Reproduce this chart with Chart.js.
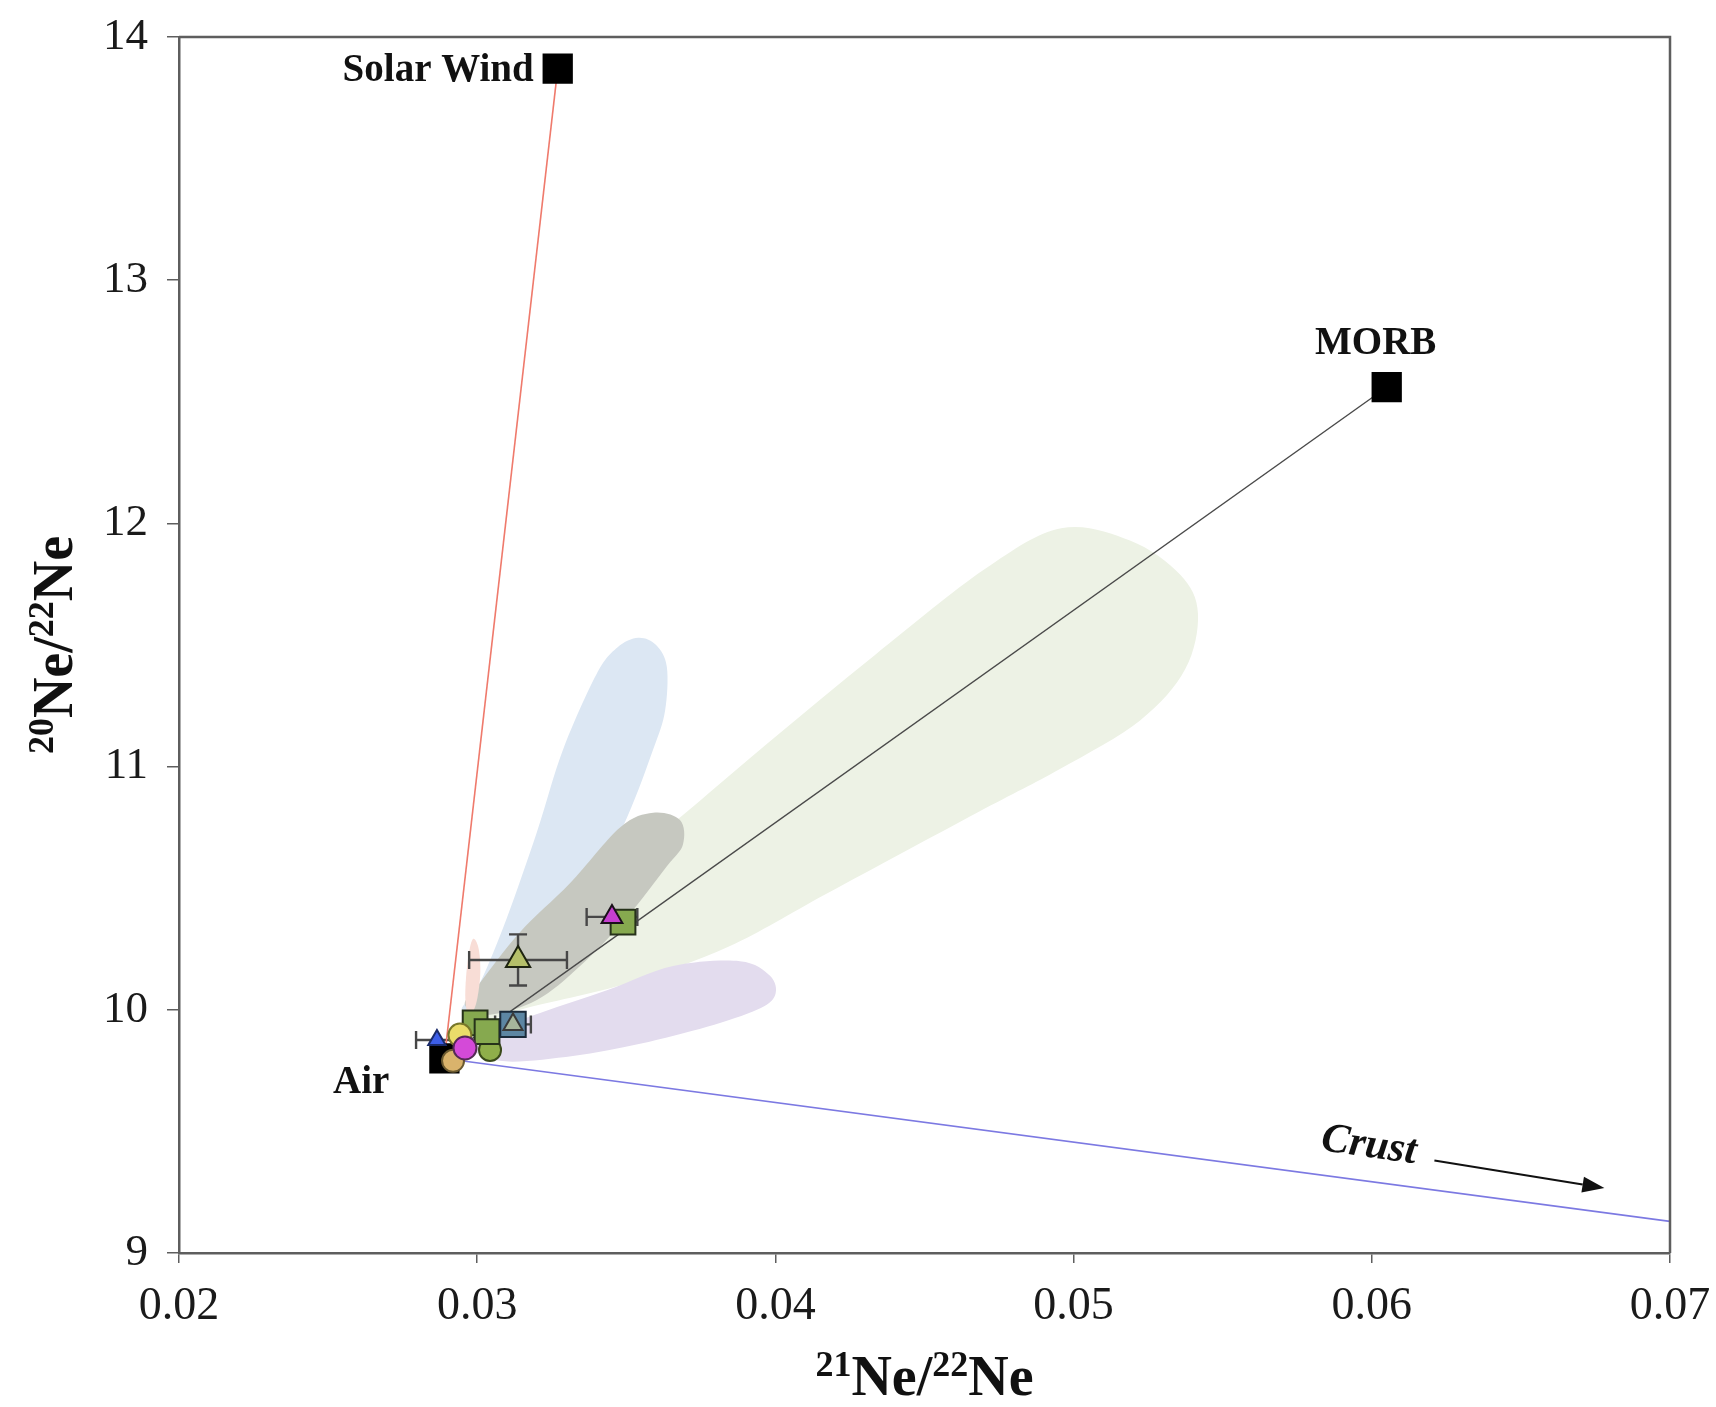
<!DOCTYPE html>
<html>
<head>
<meta charset="utf-8">
<title>Neon three-isotope plot</title>
<script src="https://cdn.jsdelivr.net/npm/chart.js@4.4.1/dist/chart.umd.min.js"></script>
<style>
  html, body { margin: 0; padding: 0; background: #fff; }
  #neon { display: block; }
</style>
</head>
<body>
<canvas id="neon" width="1716" height="1407" style="width:1716px;height:1407px"></canvas>
<script>
// Axis ticks
const xTicks = [0.02, 0.03, 0.04, 0.05, 0.06, 0.07];
const yTicks = [9, 10, 11, 12, 13, 14];

// End-member compositions (21Ne/22Ne, 20Ne/22Ne)
const endNames = ['Solar Wind', 'MORB', 'Air'];
const endX = [0.0327, 0.0605, 0.0289];
const endY = [13.87, 12.56, 9.80];

// Crustal (nucleogenic) trend and its arrow
const crustX = [0.0289, 0.0700];
const crustY = [9.80, 9.13];
const crustArrowX = [0.0621, 0.0678];
const crustArrowY = [9.380, 9.267];
const crustLabelAt = [0.0599, 9.44];

// Published data fields, outlined in data units
const greenFieldX = [0.02980, 0.03200, 0.03600, 0.03968, 0.04335, 0.04700, 0.04958, 0.05189, 0.05357,
                     0.05417, 0.05374, 0.05223, 0.04954, 0.04676, 0.04176, 0.03844, 0.03509, 0.03144, 0.02960];
const greenFieldY = [10.02, 10.33, 10.71, 11.09, 11.46, 11.81, 11.98, 11.93, 11.79,
                     11.63, 11.40, 11.19, 10.99, 10.81, 10.48, 10.26, 10.11, 10.00, 9.92];
const blueFieldX = [0.02949, 0.03009, 0.03100, 0.03200, 0.03288, 0.03400, 0.03470, 0.03540, 0.03600, 0.03636,
                    0.03630, 0.03590, 0.03502, 0.03378, 0.03211, 0.03043];
const blueFieldY = [10.00, 10.11, 10.38, 10.73, 11.07, 11.38, 11.49, 11.53, 11.50, 11.41,
                    11.23, 11.07, 10.79, 10.49, 10.20, 10.02];
const grayFieldX = [0.02959, 0.03009, 0.03144, 0.03311, 0.03479, 0.03590, 0.03680, 0.03690, 0.03636, 0.03502,
                    0.03345, 0.03200, 0.03043];
const grayFieldY = [10.02, 10.11, 10.32, 10.52, 10.75, 10.81, 10.78, 10.68, 10.59, 10.38,
                    10.18, 10.04, 9.98];
const purpleFieldX = [0.02976, 0.03211, 0.03435, 0.03657, 0.03881, 0.03982, 0.03999, 0.03938, 0.03771, 0.03546,
                      0.03321, 0.03076];
const purpleFieldY = [9.876, 9.987, 10.08, 10.18, 10.20, 10.14, 10.06, 10.00, 9.93, 9.86,
                      9.81, 9.79];
const pinkFieldX = [0.02985, 0.03005, 0.03010, 0.02995, 0.02970, 0.02960, 0.02968];
const pinkFieldY = [10.29, 10.25, 10.14, 10.02, 9.98, 10.06, 10.20];

// Samples
const blueTriX = [0.02865];
const blueTriY = [9.876];
const blueTriErrX = [0.0007];
const oliveTriX = [0.03137];
const oliveTriY = [10.205];
const oliveTriErrX = [0.00164];
const oliveTriErrY = [0.105];
const magentaTriX = [0.03452];
const magentaTriY = [10.382];
const magentaTriErrX = [0.00085];
const greenSqX = [0.02993, 0.03033, 0.03489];
const greenSqY = [9.946, 9.91, 10.36];
const steelSqX = [0.0312];
const steelSqY = [9.94];
const steelSqErrX = [0.0006];
const yellowCircX = [0.02942];
const yellowCircY = [9.896];
const magentaCircX = [0.02959];
const magentaCircY = [9.843];
const tanCircX = [0.02919];
const tanCircY = [9.79];
const oliveCircX = [0.03043];
const oliveCircY = [9.835];

const serif = "'Liberation Serif', 'Times New Roman', serif";
const axisGray = '#5e5e5e';

const pts = (xs, ys) => xs.map((v, i) => ({ x: v, y: ys[i] }));

const fields = [
  { xs: greenFieldX, ys: greenFieldY, color: '#edf2e5' },
  { xs: blueFieldX, ys: blueFieldY, color: '#dce7f3' },
  { xs: grayFieldX, ys: grayFieldY, color: '#c6c8c0' },
  { xs: purpleFieldX, ys: purpleFieldY, color: '#e3dcee' },
  { xs: pinkFieldX, ys: pinkFieldY, color: '#f8ddd6' },
];

// Closed Catmull-Rom outline through the field vertices
function traceClosed(ctx, p) {
  const n = p.length;
  ctx.moveTo(p[0][0], p[0][1]);
  for (let i = 0; i < n; i++) {
    const p0 = p[(i - 1 + n) % n], p1 = p[i], p2 = p[(i + 1) % n], p3 = p[(i + 2) % n];
    ctx.bezierCurveTo(
      p1[0] + (p2[0] - p0[0]) / 6, p1[1] + (p2[1] - p0[1]) / 6,
      p2[0] - (p3[0] - p1[0]) / 6, p2[1] - (p3[1] - p1[1]) / 6,
      p2[0], p2[1]);
  }
  ctx.closePath();
}

const fieldsPlugin = {
  id: 'fields',
  beforeDatasetsDraw(chart) {
    const { ctx, scales: { x, y } } = chart;
    ctx.save();
    fields.forEach((f) => {
      const p = f.xs.map((v, i) => [x.getPixelForValue(v), y.getPixelForValue(f.ys[i])]);
      ctx.beginPath();
      traceClosed(ctx, p);
      ctx.fillStyle = f.color;
      ctx.fill();
    });
    ctx.restore();
  },
};

const errorBarPlugin = {
  id: 'errorBars',
  beforeDatasetsDraw(chart) {
    const { ctx, scales: { x, y } } = chart;
    const cap = 9;
    const seg = (x1, y1, x2, y2) => { ctx.moveTo(x1, y1); ctx.lineTo(x2, y2); };
    ctx.save();
    ctx.strokeStyle = '#474747';
    ctx.lineWidth = 2.4;
    ctx.beginPath();
    chart.data.datasets.forEach((ds) => {
      if (!ds.errX && !ds.errY) return;
      ds.data.forEach((p, i) => {
        const px = x.getPixelForValue(p.x);
        const py = y.getPixelForValue(p.y);
        if (ds.errX && ds.errX[i]) {
          const l = x.getPixelForValue(p.x - ds.errX[i]);
          const r = x.getPixelForValue(p.x + ds.errX[i]);
          seg(l, py, r, py); seg(l, py - cap, l, py + cap); seg(r, py - cap, r, py + cap);
        }
        if (ds.errY && ds.errY[i]) {
          const t = y.getPixelForValue(p.y + ds.errY[i]);
          const b = y.getPixelForValue(p.y - ds.errY[i]);
          seg(px, t, px, b); seg(px - cap, t, px + cap, t); seg(px - cap, b, px + cap, b);
        }
      });
    });
    ctx.stroke();
    ctx.restore();
  },
};

// Draws a ratio label like 21Ne/22Ne with raised mass numbers
function drawRatio(ctx, parts, cx, baseY) {
  const big = `bold 56px ${serif}`;
  const small = `bold 36px ${serif}`;
  let total = 0;
  parts.forEach(([t, sup]) => { ctx.font = sup ? small : big; total += ctx.measureText(t).width; });
  let cur = cx - total / 2;
  ctx.textAlign = 'left';
  ctx.textBaseline = 'alphabetic';
  parts.forEach(([t, sup]) => {
    ctx.font = sup ? small : big;
    ctx.fillText(t, cur, sup ? baseY - 19 : baseY);
    cur += ctx.measureText(t).width;
  });
}

const labelsPlugin = {
  id: 'labels',
  afterDatasetsDraw(chart) {
    const { ctx, chartArea: a, scales: { x, y } } = chart;
    ctx.save();

    // top and right frame
    ctx.strokeStyle = axisGray;
    ctx.lineWidth = 2.5;
    ctx.beginPath();
    ctx.moveTo(a.left, a.top);
    ctx.lineTo(a.right, a.top);
    ctx.lineTo(a.right, a.bottom);
    ctx.stroke();

    // end-member names
    const place = { 'Solar Wind': [-24, 2, 'right'], 'MORB': [-11, -43, 'center'], 'Air': [-55, 24, 'right'] };
    ctx.fillStyle = '#111';
    ctx.font = `bold 39px ${serif}`;
    ctx.textBaseline = 'middle';
    endNames.forEach((name, i) => {
      const [dx, dy, align] = place[name];
      ctx.textAlign = align;
      ctx.fillText(name, x.getPixelForValue(endX[i]) + dx, y.getPixelForValue(endY[i]) + dy);
    });

    // crust label and arrow
    ctx.save();
    ctx.translate(x.getPixelForValue(crustLabelAt[0]), y.getPixelForValue(crustLabelAt[1]));
    ctx.rotate(8 * Math.PI / 180);
    ctx.font = `italic bold 42px ${serif}`;
    ctx.textAlign = 'center';
    ctx.fillText('Crust', 0, 0);
    ctx.restore();

    const ax0 = x.getPixelForValue(crustArrowX[0]), ay0 = y.getPixelForValue(crustArrowY[0]);
    const ax1 = x.getPixelForValue(crustArrowX[1]), ay1 = y.getPixelForValue(crustArrowY[1]);
    const ang = Math.atan2(ay1 - ay0, ax1 - ax0);
    const head = 22, half = 8;
    ctx.strokeStyle = '#111';
    ctx.lineWidth = 2;
    ctx.beginPath();
    ctx.moveTo(ax0, ay0);
    ctx.lineTo(ax1 - head * Math.cos(ang), ay1 - head * Math.sin(ang));
    ctx.stroke();
    ctx.beginPath();
    ctx.moveTo(ax1, ay1);
    ctx.lineTo(ax1 - head * Math.cos(ang) + half * Math.sin(ang), ay1 - head * Math.sin(ang) - half * Math.cos(ang));
    ctx.lineTo(ax1 - head * Math.cos(ang) - half * Math.sin(ang), ay1 - head * Math.sin(ang) + half * Math.cos(ang));
    ctx.closePath();
    ctx.fillStyle = '#111';
    ctx.fill();

    // axis titles
    ctx.fillStyle = '#111';
    drawRatio(ctx, [['21', true], ['Ne/', false], ['22', true], ['Ne', false]], (a.left + a.right) / 2, 1395);
    ctx.save();
    ctx.translate(72, (a.top + a.bottom) / 2);
    ctx.rotate(-Math.PI / 2);
    drawRatio(ctx, [['20', true], ['Ne/', false], ['22', true], ['Ne', false]], 0, 0);
    ctx.restore();

    ctx.restore();
  },
};

const marker = (label, xs, ys, style, radius, fill, border, order, extra = {}) => ({
  label,
  data: pts(xs, ys),
  pointStyle: style,
  pointRadius: radius,
  backgroundColor: fill,
  borderColor: border,
  borderWidth: 2,
  order,
  ...extra,
});

const mixLine = (label, xs, ys, color, width) => ({
  label,
  data: pts(xs, ys),
  showLine: true,
  borderColor: color,
  borderWidth: width,
  pointRadius: 0,
  order: 100,
});

const datasets = [
  mixLine('Air - Solar Wind', [endX[2], endX[0]], [endY[2], endY[0]], '#ef7a6c', 1.6),
  mixLine('Air - MORB', [endX[2], endX[1]], [endY[2], endY[1]], '#4a4a4a', 1.4),
  mixLine('Air - Crust', crustX, crustY, '#7c79e2', 1.6),
  marker('End members', endX, endY, 'rect', 20, '#000', '#000', 60),
  marker('Tan', tanCircX, tanCircY, 'circle', 11, '#d9b36c', '#6b5a30', 50),
  marker('Olive circle', oliveCircX, oliveCircY, 'circle', 11, '#8fae4a', '#3a4a1a', 48),
  marker('Green squares', greenSqX, greenSqY, 'rect', 17.5, '#86a94f', '#26321a', 45),
  marker('Steel', steelSqX, steelSqY, 'rect', 18, '#5d86a3', '#1b2a3a', 40, { errX: steelSqErrX }),
  marker('Steel inner', steelSqX, steelSqY, 'triangle', 11, '#a7b59b', '#3a3a3a', 39),
  marker('Yellow', yellowCircX, yellowCircY, 'circle', 11.5, '#eadc6a', '#77772a', 35),
  marker('Magenta circle', magentaCircX, magentaCircY, 'circle', 11.5, '#d44ad8', '#552a55', 30),
  marker('Blue', blueTriX, blueTriY, 'triangle', 10, '#3d5ee8', '#1a2a6a', 25, { errX: blueTriErrX }),
  marker('Olive', oliveTriX, oliveTriY, 'triangle', 14, '#b5c06a', '#1e2410', 20, { errX: oliveTriErrX, errY: oliveTriErrY }),
  marker('Magenta', magentaTriX, magentaTriY, 'triangle', 12, '#c53fcf', '#1a101a', 10, { errX: magentaTriErrX }),
];

new Chart(document.getElementById('neon'), {
  type: 'scatter',
  data: { datasets },
  options: {
    responsive: false,
    animation: false,
    events: [],
    layout: { padding: { left: 0, right: 46, top: 37, bottom: 0 } },
    plugins: { legend: { display: false }, tooltip: { enabled: false } },
    scales: {
      x: {
        type: 'linear',
        min: xTicks[0],
        max: xTicks[xTicks.length - 1],
        afterBuildTicks: (s) => { s.ticks = xTicks.map((v) => ({ value: v })); },
        afterFit: (s) => { s.height = 154; s.paddingLeft = 0; s.paddingRight = 0; },
        grid: { drawOnChartArea: false, tickLength: 10, color: axisGray, lineWidth: 1.5 },
        border: { color: axisGray, width: 2.5 },
        ticks: { font: { family: serif, size: 46 }, color: '#1a1a1a', padding: 16, maxRotation: 0, callback: (v) => v.toFixed(2) },
      },
      y: {
        type: 'linear',
        min: yTicks[0],
        max: yTicks[yTicks.length - 1],
        afterBuildTicks: (s) => { s.ticks = yTicks.map((v) => ({ value: v })); },
        afterFit: (s) => { s.width = 179; s.paddingTop = 0; s.paddingBottom = 0; },
        grid: { drawOnChartArea: false, tickLength: 12, color: axisGray, lineWidth: 1.5 },
        border: { color: axisGray, width: 2.5 },
        ticks: { font: { family: serif, size: 45 }, color: '#1a1a1a', padding: 19, callback: (v) => String(v) },
      },
    },
  },
  plugins: [fieldsPlugin, errorBarPlugin, labelsPlugin],
});
</script>
</body>
</html>
